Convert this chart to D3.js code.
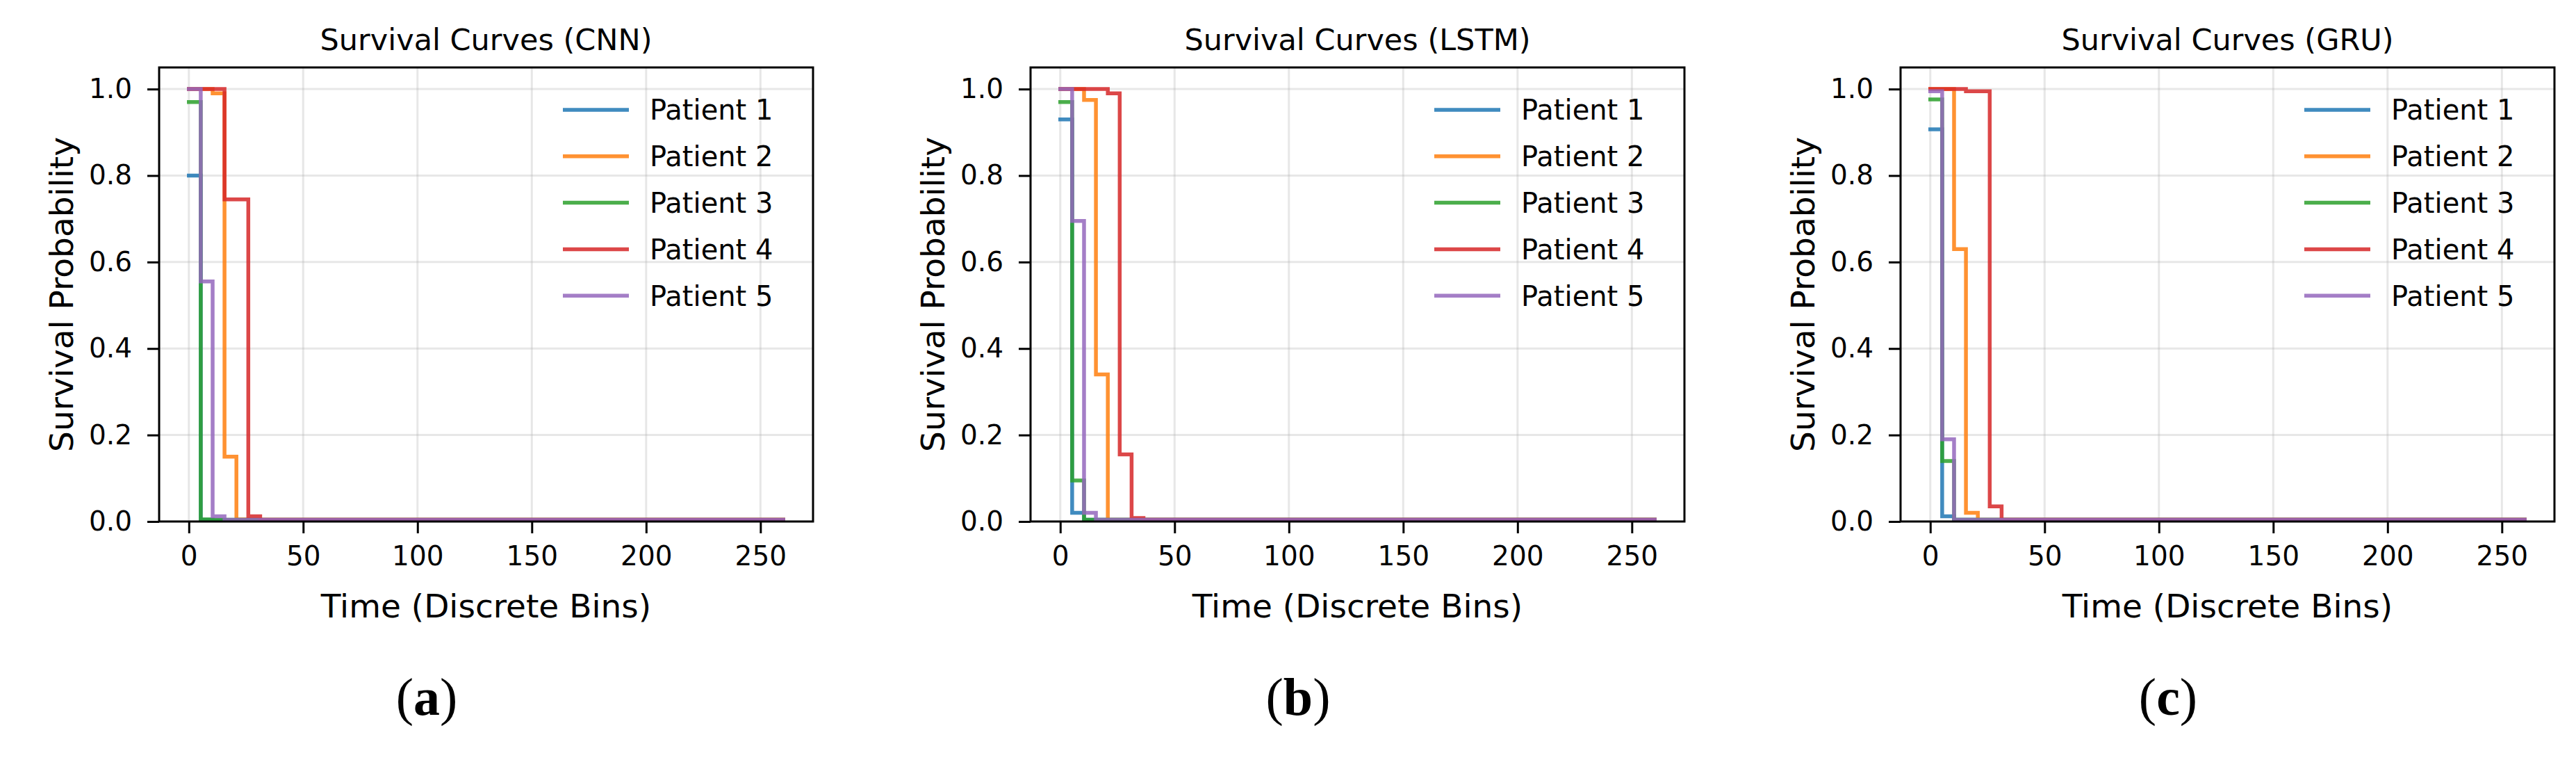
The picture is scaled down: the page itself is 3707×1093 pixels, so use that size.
<!DOCTYPE html>
<html>
<head>
<meta charset="utf-8">
<script src="https://cdn.jsdelivr.net/npm/d3@7"></script>
<style>
  body { margin: 0; background: #fff; }
  svg { display: block; }
  text { font-family: "DejaVu Sans", sans-serif; fill: #000; }
</style>
</head>
<body>
<div id="chart"></div>
<script>
// discrete time bins where the survival curves change (last one = end of grid)
const timeBins = [0, 5.2, 10.4, 15.6, 20.8, 26, 31.2, 36.4, 260];
const patients = ["Patient 1", "Patient 2", "Patient 3", "Patient 4", "Patient 5"];
const patientColors = ["#1f77b4", "#ff7f0e", "#2ca02c", "#d62728", "#9467bd"];

// survival probability per patient at each time bin
const cnnSurvival = [
    [0.80, 0.004, 0.003, 0.003, 0.003, 0.003, 0.003, 0.003, 0.003],
    [1.00, 1.00, 0.99, 0.15, 0.005, 0.004, 0.004, 0.004, 0.004],
    [0.97, 0.005, 0.004, 0.004, 0.004, 0.004, 0.004, 0.004, 0.004],
    [1.00, 1.00, 1.00, 0.745, 0.745, 0.012, 0.004, 0.004, 0.004],
    [1.00, 0.555, 0.012, 0.004, 0.004, 0.004, 0.004, 0.004, 0.004]
];
const lstmSurvival = [
    [0.93, 0.02, 0.004, 0.004, 0.004, 0.004, 0.004, 0.004, 0.004],
    [1.00, 1.00, 0.975, 0.34, 0.004, 0.004, 0.004, 0.004, 0.004],
    [0.97, 0.095, 0.004, 0.004, 0.004, 0.004, 0.004, 0.004, 0.004],
    [1.00, 1.00, 1.00, 1.00, 0.99, 0.155, 0.008, 0.004, 0.004],
    [1.00, 0.695, 0.02, 0.004, 0.004, 0.004, 0.004, 0.004, 0.004]
];
const gruSurvival = [
    [0.907, 0.012, 0.004, 0.004, 0.004, 0.004, 0.004, 0.004, 0.004],
    [1.00, 1.00, 0.63, 0.02, 0.004, 0.004, 0.004, 0.004, 0.004],
    [0.976, 0.14, 0.004, 0.004, 0.004, 0.004, 0.004, 0.004, 0.004],
    [1.00, 1.00, 1.00, 0.995, 0.995, 0.035, 0.004, 0.004, 0.004],
    [0.995, 0.19, 0.004, 0.004, 0.004, 0.004, 0.004, 0.004, 0.004]
];

const modelNames = ["CNN", "LSTM", "GRU"];
const captionLetters = ["a", "b", "c"];
const xTicks = [0, 50, 100, 150, 200, 250];
const yTicks = [0, 0.2, 0.4, 0.6, 0.8, 1.0];

const W = 3707, H = 1093;
const panelLeft = [229, 1483, 2735];
const plotW = 941, plotH = 653, plotTop = 97;

const svg = d3.select("#chart").append("svg")
    .attr("width", W)
    .attr("height", H);

const x = d3.scaleLinear().domain([-13, 273]).range([0, plotW]);
const y = d3.scaleLinear().domain([0, 1.05]).range([plotH, 0]);

const line = d3.line()
    .x((d, i) => x(timeBins[i]))
    .y(d => y(d))
    .curve(d3.curveStepAfter);

function drawPanel(k, series) {
    const g = svg.append("g")
        .attr("transform", `translate(${panelLeft[k]},${plotTop})`);

    // grid
    g.append("g").selectAll("line")
        .data(xTicks).join("line")
        .attr("x1", d => x(d)).attr("x2", d => x(d))
        .attr("y1", 0).attr("y2", plotH)
        .attr("stroke", "#b0b0b0").attr("stroke-opacity", 0.3).attr("stroke-width", 3);
    g.append("g").selectAll("line")
        .data(yTicks).join("line")
        .attr("x1", 0).attr("x2", plotW)
        .attr("y1", d => y(d)).attr("y2", d => y(d))
        .attr("stroke", "#b0b0b0").attr("stroke-opacity", 0.3).attr("stroke-width", 3);

    // curves
    series.forEach((vals, i) => {
        g.append("path")
            .attr("d", line(vals))
            .attr("fill", "none")
            .attr("stroke", patientColors[i])
            .attr("stroke-opacity", 0.85)
            .attr("stroke-width", 5.5)
            .attr("stroke-linecap", "square");
    });

    // axes
    const xAxis = g.append("g")
        .attr("transform", `translate(0,${plotH})`)
        .call(d3.axisBottom(x).tickValues(xTicks).tickSize(17).tickPadding(18));
    const yAxis = g.append("g")
        .call(d3.axisLeft(y).tickValues(yTicks).tickSize(17).tickPadding(22).tickFormat(d3.format(".1f")));
    [xAxis, yAxis].forEach(a => {
        a.select(".domain").remove();
        a.selectAll(".tick line").attr("stroke", "#000").attr("stroke-width", 3);
        a.selectAll(".tick text")
            .style("font-family", "DejaVu Sans")
            .style("font-size", "39px")
            .attr("fill", "#000");
    });

    g.append("rect")
        .attr("width", plotW).attr("height", plotH)
        .attr("fill", "none").attr("stroke", "#000").attr("stroke-width", 3);

    // legend
    const leg = g.append("g").attr("transform", "translate(581,61)");
    patients.forEach((p, i) => {
        const row = leg.append("g").attr("transform", `translate(0,${i * 66.8})`);
        row.append("line")
            .attr("x1", 0).attr("x2", 95)
            .attr("stroke", patientColors[i])
            .attr("stroke-opacity", 0.85)
            .attr("stroke-width", 5.5);
        row.append("text")
            .attr("x", 125).attr("dy", "0.36em")
            .style("font-size", "40px")
            .text(p);
    });

    // titles
    g.append("text")
        .attr("x", plotW / 2).attr("y", 72 - plotTop)
        .attr("text-anchor", "middle")
        .style("font-size", "43px")
        .text(`Survival Curves (${modelNames[k]})`);
    g.append("text")
        .attr("x", plotW / 2).attr("y", 888 - plotTop)
        .attr("text-anchor", "middle")
        .style("font-size", "47px")
        .text("Time (Discrete Bins)");
    g.append("text")
        .attr("transform", `translate(-141,${plotH / 2}) rotate(-90)`)
        .attr("text-anchor", "middle")
        .attr("dy", "0.36em")
        .style("font-size", "47px")
        .text("Survival Probability");

    // caption (a)/(b)/(c)
    const cap = g.append("text")
        .attr("x", 385).attr("y", 1028 - plotTop)
        .attr("text-anchor", "middle")
        .style("font-family", "Liberation Serif")
        .style("font-size", "76px");
    cap.append("tspan").text("(");
    cap.append("tspan").style("font-weight", "bold").text(captionLetters[k]);
    cap.append("tspan").text(")");
}

[cnnSurvival, lstmSurvival, gruSurvival].forEach((s, k) => drawPanel(k, s));
</script>
</body>
</html>
